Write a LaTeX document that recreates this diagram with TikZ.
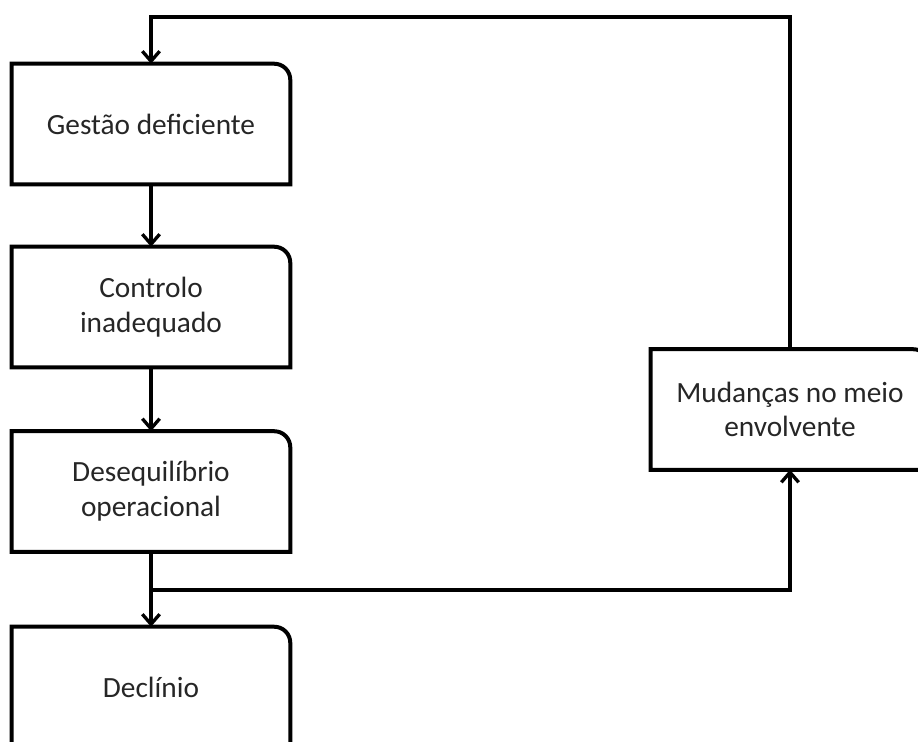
\documentclass[tikz,border=0pt]{standalone}
\usepackage{fontspec}
\setmainfont{Carlito}
\usetikzlibrary{arrows.meta}

\begin{document}
\begin{tikzpicture}[
  x=0.75pt, y=-0.75pt,
  stage/.style={minimum width=208.5pt, minimum height=90pt, inner sep=0pt,
    align=center, text=black!85, font=\fontsize{22}{26}\selectfont},
  boxline/.style={line width=3pt, line join=miter},
  flow/.style={line width=3pt, -{Straight Barb[length=7.5pt, width=13pt, line width=2.5pt]}}
]

  \useasboundingbox (0,0) rectangle (918,742);
  \clip (0,0) rectangle (918,742);

  \node[stage] (gestao) at (151,124) {Gestão deficiente};
  \node[stage] (controlo) at (151,307) {Controlo\\inadequado};
  \node[stage] (deseq) at (151,491.5) {Desequilíbrio\\operacional};
  \node[stage] (declinio) at (151,687) {Declínio};
  \node[stage] (env) at (790,409.5) {Mudanças no meio\\envolvente};

  % outlines: only the top right corner is rounded
  \foreach \n in {gestao,controlo,deseq,declinio,env}
    \draw[boxline] (\n.south west) -- (\n.north west) -- ([xshift=-12pt]\n.north east)
      arc[start angle=90, end angle=0, radius=12pt] -- (\n.south east) -- cycle;

  \coordinate (loop) at (151,17);
  \coordinate (split) at (151,590);

  \draw[flow] (gestao) -- (controlo);
  \draw[flow] (controlo) -- (deseq);
  \draw[flow] (deseq) -- (declinio);
  \draw[flow] (split) -| (env);
  \draw[flow] (env) |- (loop) -- (gestao);

\end{tikzpicture}
\end{document}
